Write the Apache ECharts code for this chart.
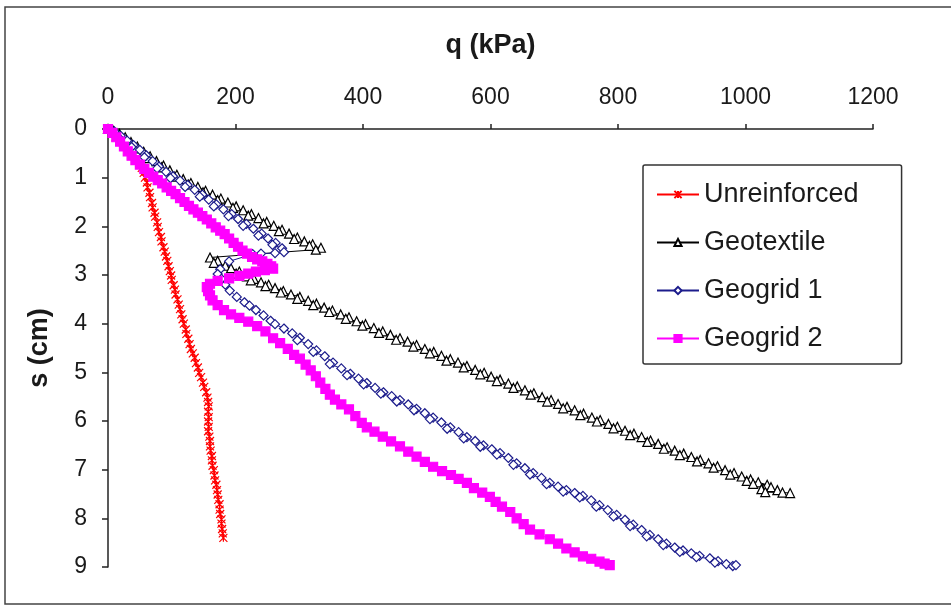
<!DOCTYPE html>
<html>
<head>
<meta charset="utf-8">
<script src="https://cdn.jsdelivr.net/npm/echarts@6/dist/echarts.min.js"></script>
<style>
  html, body { margin: 0; padding: 0; background: #fff; }
  #chart { width: 951px; height: 606px; }
</style>
</head>
<body>
<div id="chart"></div>
<script>
// q (kPa), s (cm) pairs
var unreinforced = [
  [0,0],[6,0.08],[12,0.17],[19,0.26],[26,0.35],[32,0.44],[38,0.52],[44,0.61],[49,0.70],[53,0.80],
  [56,0.90],[58,1.00],[61,1.10],[62,1.20],[65,1.31],[66,1.40],[69,1.52],[70,1.61],[73,1.72],[74,1.80],
  [77,1.92],[78,2.01],[80,2.12],[83,2.22],[84,2.31],[87,2.43],[89,2.52],[91,2.62],[93,2.71],[95,2.82],
  [97,2.92],[99,3.01],[100,3.10],[103,3.21],[105,3.30],[106,3.40],[109,3.50],[111,3.61],[113,3.70],[115,3.81],
  [117,3.91],[119,4.00],[122,4.12],[123,4.21],[126,4.31],[128,4.42],[130,4.52],[133,4.61],[136,4.70],[138,4.81],
  [141,4.90],[143,5.01],[146,5.10],[149,5.21],[151,5.30],[154,5.41],[156,5.52],[157,5.61],[158,5.70],[157,5.81],
  [158,5.92],[157,6.01],[158,6.12],[157,6.21],[159,6.32],[160,6.41],[160,6.52],[161,6.61],[163,6.72],[163,6.81],
  [164,6.92],[166,7.01],[167,7.12],[168,7.22],[170,7.31],[171,7.42],[172,7.51],[173,7.62],[175,7.71],[175,7.82],
  [176,7.91],[178,8.02],[178,8.11],[179,8.22],[180,8.31],[181,8.40]
];

var geotextile = [
  [0,0],[9,0.04],[18,0.10],[27,0.17],[24,0.21],[36,0.27],[46,0.36],[43,0.40],[56,0.47],[66,0.56],
  [63,0.60],[76,0.66],[87,0.75],[84,0.79],[97,0.85],[108,0.94],[104,0.98],[118,1.03],[130,1.11],[126,1.14],
  [141,1.19],[153,1.27],[149,1.30],[164,1.35],[177,1.43],[172,1.46],[188,1.51],[201,1.59],[196,1.62],[212,1.67],
  [225,1.75],[220,1.78],[236,1.83],[249,1.91],[244,1.94],[260,1.99],[273,2.07],[268,2.10],[284,2.15],[297,2.23],
  [292,2.26],[308,2.31],[321,2.37],[316,2.40],[334,2.44],[326,2.48],
  [160,2.64],[172,2.71],[166,2.75],[184,2.81],[193,2.86],[206,2.93],[201,2.97],[218,3.03],[229,3.08],[224,3.11],
  [240,3.15],[252,3.20],[247,3.23],[262,3.27],[275,3.33],[271,3.36],[287,3.40],[301,3.45],[297,3.49],[314,3.53],
  [327,3.59],[322,3.62],[339,3.67],[352,3.73],[347,3.76],[365,3.81],[378,3.87],[373,3.90],[390,3.95],[404,4.01],
  [399,4.04],[417,4.09],[431,4.16],[425,4.19],[443,4.23],[458,4.30],[452,4.33],[470,4.37],[484,4.44],[479,4.47],
  [497,4.52],[511,4.58],[505,4.61],[523,4.66],[537,4.73],[531,4.76],[549,4.80],[563,4.87],[558,4.90],[576,4.95],
  [590,5.01],[584,5.04],[601,5.09],[615,5.15],[610,5.18],[628,5.23],[642,5.29],[636,5.32],[654,5.37],[668,5.43],
  [663,5.46],[681,5.51],[695,5.57],[689,5.60],[706,5.65],[720,5.71],[714,5.74],[732,5.78],[746,5.85],[741,5.88],
  [759,5.93],[772,5.98],[767,6.01],[785,6.06],[799,6.12],[793,6.15],[811,6.20],[825,6.26],[819,6.29],[837,6.33],
  [851,6.40],[846,6.43],[863,6.47],[877,6.54],[872,6.57],[889,6.61],[903,6.67],[897,6.70],[915,6.74],[929,6.80],
  [924,6.83],[942,6.87],[956,6.93],[950,6.96],[968,7.01],[982,7.07],[976,7.10],[994,7.14],[1008,7.20],[1002,7.23],
  [1020,7.26],[1034,7.31],[1012,7.29],[1040,7.36],[1025,7.40],[1050,7.42],[1031,7.46],[1058,7.47],[1070,7.48]
];

var geogrid1 = [
  [0,0],[10,0.05],[20,0.14],[17,0.18],[30,0.24],[40,0.33],[37,0.37],[50,0.43],[60,0.54],[57,0.58],
  [70,0.66],[80,0.77],[77,0.81],[91,0.88],[102,0.97],[98,1.01],[113,1.06],[125,1.15],[121,1.19],[136,1.25],
  [148,1.35],[144,1.39],[158,1.45],[170,1.55],[166,1.59],[181,1.65],[194,1.75],[189,1.79],[204,1.85],[217,1.95],
  [212,1.99],[228,2.05],[241,2.15],[236,2.19],[251,2.25],[263,2.34],[258,2.38],[273,2.45],[276,2.53],[262,2.55],
  [240,2.56],[227,2.57],
  [190,2.72],[176,2.88],[172,2.98],[178,3.08],[184,3.20],[191,3.32],[202,3.45],[214,3.56],[222,3.63],[232,3.72],
  [244,3.83],[255,3.94],[262,4.01],[276,4.10],[289,4.20],[301,4.29],[297,4.34],[314,4.42],[327,4.55],[322,4.58],
  [340,4.67],[353,4.80],[348,4.83],[366,4.92],[380,5.03],[375,5.06],[393,5.13],[406,5.22],[401,5.25],[419,5.32],
  [432,5.41],[428,5.44],[445,5.49],[458,5.57],[453,5.60],[471,5.66],[484,5.75],[480,5.78],[497,5.84],[510,5.93],
  [505,5.96],[523,6.03],[537,6.13],[532,6.16],[550,6.23],[563,6.33],[558,6.36],[576,6.41],[589,6.50],[584,6.53],
  [602,6.58],[615,6.66],[610,6.69],[628,6.76],[641,6.87],[636,6.90],[654,6.97],[667,7.07],[662,7.10],[680,7.17],
  [693,7.27],[688,7.30],[706,7.35],[719,7.42],[714,7.45],[732,7.48],[745,7.54],[740,7.57],[758,7.63],[771,7.73],
  [766,7.76],[784,7.83],[798,7.93],[793,7.96],[811,8.03],[824,8.13],[819,8.16],[837,8.24],[850,8.34],[845,8.37],
  [863,8.43],[876,8.52],[871,8.55],[889,8.60],[902,8.66],[897,8.69],[915,8.72],[928,8.77],[923,8.80],[944,8.82],
  [957,8.88],[952,8.91],[970,8.94],[980,8.98],[985,8.96]
];

var geogrid2 = [
  [0,0],[7,0.08],[13,0.17],[19,0.26],[25,0.36],[31,0.46],[37,0.55],[43,0.64],[50,0.73],[57,0.82],
  [64,0.90],[71,0.98],[78,1.05],[85,1.12],[92,1.20],[99,1.27],[106,1.34],[113,1.42],[120,1.50],[127,1.58],
  [134,1.65],[141,1.72],[148,1.79],[155,1.86],[162,1.94],[169,2.02],[176,2.09],[183,2.16],[190,2.25],[197,2.34],
  [204,2.42],[211,2.50],[218,2.56],[226,2.63],[234,2.68],[242,2.72],[250,2.77],[256,2.82],[259,2.87],[246,2.90],
  [232,2.93],[220,2.97],
  [206,3.02],[190,3.07],[172,3.12],[160,3.18],[155,3.25],[157,3.33],[160,3.42],[164,3.52],[172,3.62],[182,3.72],
  [193,3.81],[206,3.88],[220,3.96],[234,4.05],[247,4.16],[259,4.30],[270,4.40],[282,4.52],[292,4.64],[301,4.72],
  [310,4.84],[318,4.96],[326,5.08],[333,5.21],[341,5.34],[348,5.46],[356,5.56],[366,5.66],[378,5.76],[388,5.90],
  [398,6.04],[406,6.13],[418,6.22],[431,6.32],[444,6.42],[458,6.52],[471,6.63],[484,6.73],[497,6.84],[510,6.94],
  [524,7.03],[538,7.11],[550,7.19],[563,7.27],[574,7.38],[587,7.47],[599,7.56],[608,7.66],[618,7.76],[631,7.87],
  [641,8.00],[652,8.12],[662,8.23],[677,8.33],[693,8.43],[706,8.52],[719,8.62],[732,8.70],[745,8.78],[758,8.83],
  [771,8.89],[779,8.93],[787,8.96]
];

var seriesNames = ['Unreinforced', 'Geotextile', 'Geogrid 1', 'Geogrid 2'];

var font = 'Liberation Sans, Arial, sans-serif';
var starSymbol = 'path://M0,0L10,10M10,0L0,10M5,0L5,10';

var myChart = echarts.init(document.getElementById('chart'));

function lineSeries(name, data, color, symbol, fill, size) {
  return {
    name: name,
    type: 'line',
    data: data,
    symbol: symbol,
    symbolSize: size,
    showAllSymbol: true,
    lineStyle: { color: color, width: 1 },
    itemStyle: { color: fill, borderColor: color, borderWidth: 1.2 }
  };
}

var option = {
  animation: false,
  backgroundColor: '#fff',
  graphic: [{
    type: 'rect',
    shape: { x: 5, y: 7, width: 960, height: 597 },
    style: { fill: 'none', stroke: '#444', lineWidth: 1.5 },
    silent: true
  }],
  grid: { left: 108, top: 129, width: 765, height: 438 },
  legend: {
    orient: 'vertical',
    left: 643,
    top: 165,
    padding: [16, 43, 12, 13],
    itemGap: 21,
    itemWidth: 42,
    itemHeight: 9,
    borderColor: '#333',
    borderWidth: 1.5,
    borderRadius: 2,
    textStyle: { fontSize: 27, fontFamily: font, color: '#1a1a1a' },
    data: seriesNames
  },
  xAxis: {
    type: 'value',
    position: 'top',
    min: 0,
    max: 1200,
    interval: 200,
    name: 'q (kPa)',
    nameLocation: 'middle',
    nameGap: 70,
    nameTextStyle: { fontSize: 27, fontWeight: 'bold', fontFamily: font, color: '#1a1a1a' },
    axisLine: { onZero: false, lineStyle: { color: '#222', width: 1.5 } },
    axisTick: { length: 5, lineStyle: { color: '#222', width: 1.5 } },
    axisLabel: { margin: 20, fontSize: 23, fontFamily: font, color: '#1a1a1a',
      formatter: function (v) { return String(v); } },
    splitLine: { show: false }
  },
  yAxis: {
    type: 'value',
    inverse: true,
    min: 0,
    max: 9,
    interval: 1,
    name: 's (cm)',
    nameLocation: 'middle',
    nameRotate: 90,
    nameGap: 55,
    nameTextStyle: { fontSize: 27, fontWeight: 'bold', fontFamily: font, color: '#1a1a1a' },
    axisLine: { onZero: false, lineStyle: { color: '#222', width: 1.5 } },
    axisTick: { length: 6, lineStyle: { color: '#222', width: 1.5 } },
    axisLabel: { margin: 21, fontSize: 23, fontFamily: font, color: '#1a1a1a' },
    splitLine: { show: false }
  },
  series: [
    lineSeries(seriesNames[0], unreinforced, '#ff0000', starSymbol, 'rgba(0,0,0,0)', 8),
    lineSeries(seriesNames[1], geotextile, '#000000', 'triangle', '#ffffff', 9),
    lineSeries(seriesNames[2], geogrid1, '#1c1c8c', 'diamond', '#ffffff', 9),
    lineSeries(seriesNames[3], geogrid2, '#ff00ff', 'rect', '#ff00ff', 9)
  ]
};

myChart.setOption(option);
</script>
</body>
</html>
